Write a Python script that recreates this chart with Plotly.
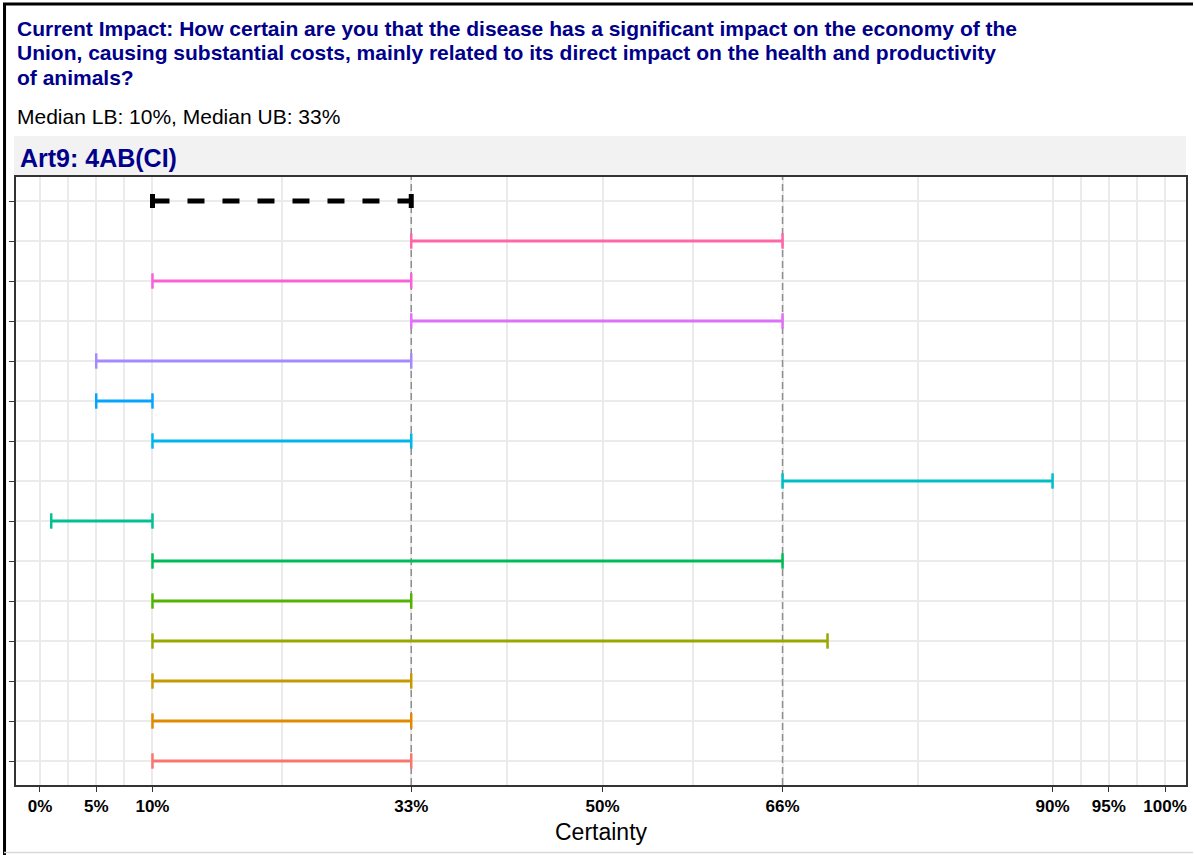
import plotly.graph_objects as go

# ---- data ----
rows = ["E1", "E2", "E3", "E4", "E5", "E6", "E7", "E8", "E9", "E10", "E11", "E12", "E13", "E14", "Median"]
lower = [10, 10, 10, 10, 10, 10, 1, 66, 10, 5, 5, 33, 10, 33, 10]
upper = [33, 33, 33, 70, 33, 66, 10, 90, 33, 10, 33, 66, 33, 66, 33]
colors = ["#F8766D", "#E38900", "#C49A00", "#99A800", "#53B400", "#00BC56", "#00C094",
          "#00BFC4", "#00B6EB", "#06A4FF", "#A58AFF", "#DF70F8", "#FB61D7", "#FF66A8", "#000000"]
major_ticks = [0, 5, 10, 33, 50, 66, 90, 95, 100]
tick_labels = ["0%", "5%", "10%", "33%", "50%", "66%", "90%", "95%", "100%"]
minor_ticks = [2.5, 7.5, 21.5, 41.5, 58, 78, 92.5, 97.5]
ref_lines = [33, 66]
title_lines = ["Current Impact: How certain are you that the disease has a significant impact on the economy of the",
               "Union, causing substantial costs, mainly related to its direct impact on the health and productivity",
               "of animals?"]
subtitle = "Median LB: 10%, Median UB: 33%"
strip_label = "Art9: 4AB(CI)"
x_title = "Certainty"

W, H = 1195, 855
L, R, T, B = 16, 7, 177, 70
PW, PH = W - L - R, H - T - B
FONT = "Liberation Sans, Arial"
Y_RANGE = [0.4, len(rows) + 0.6]


def px(xp):
    return (xp - L) / PW


def py(yp):
    return (H - B - yp) / PH


fig = go.Figure()
# reference lines drawn first (above grid, below intervals)
for v in ref_lines:
    fig.add_trace(go.Scatter(x=[v, v], y=Y_RANGE, mode="lines",
                             line=dict(color="#8F8F8F", width=1.5, dash="7px,4px"),
                             showlegend=False, hoverinfo="skip"))

for i, (lo, hi, c) in enumerate(zip(lower, upper, colors)):
    is_med = rows[i] == "Median"
    yv = i + 1
    fig.add_trace(go.Scatter(
        x=[lo, hi], y=[yv, yv], mode="lines+markers",
        line=dict(color=c, width=5 if is_med else 3, dash="17px,18px" if is_med else "solid"),
        marker=dict(symbol="line-ns", size=10 if is_med else 11,
                    line=dict(color=c, width=5 if is_med else 2.5)),
        showlegend=False, hoverinfo="skip", cliponaxis=False,
    ))

# strip
fig.add_shape(type="rect", xref="paper", yref="paper", x0=px(14), x1=1, y0=1, y1=py(136),
              fillcolor="#F2F2F2", line=dict(width=0), layer="below")
# outer frame
fig.add_shape(type="line", xref="paper", yref="paper", x0=px(3), x1=px(1195), y0=py(4), y1=py(4),
              line=dict(color="#000000", width=3))
fig.add_shape(type="line", xref="paper", yref="paper", x0=px(4.5), x1=px(4.5), y0=py(3), y1=py(855),
              line=dict(color="#000000", width=3))
fig.add_shape(type="line", xref="paper", yref="paper", x0=px(4), x1=px(1195), y0=py(852.5), y1=py(852.5),
              line=dict(color="#D9D9D9", width=1.5))

title_font = dict(family=FONT, size=21, color="#00008B")
for k, (t, yc) in enumerate(zip(title_lines, [28.5, 53, 77.5])):
    fig.add_annotation(text="<b>" + t + "</b>", x=px(16), y=py(yc), xref="paper", yref="paper",
                       xanchor="left", yanchor="middle", showarrow=False, font=title_font, borderpad=0)
fig.add_annotation(text=subtitle, x=px(16), y=py(116), xref="paper", yref="paper",
                   xanchor="left", yanchor="middle", showarrow=False, borderpad=0,
                   font=dict(family=FONT, size=21, color="#000000"))
fig.add_annotation(text="<b>" + strip_label + "</b>", x=px(19), y=py(158), xref="paper", yref="paper",
                   xanchor="left", yanchor="middle", showarrow=False, borderpad=0,
                   font=dict(family=FONT, size=25, color="#00008B"))
fig.add_annotation(text=x_title, x=px(603), y=py(832), xref="paper", yref="paper",
                   xanchor="center", yanchor="middle", showarrow=False, borderpad=0,
                   font=dict(family=FONT, size=23, color="#000000"))

fig.update_layout(
    width=W, height=H, margin=dict(l=L, r=R, t=T, b=B),
    paper_bgcolor="white", plot_bgcolor="white",
    xaxis=dict(range=[-2.13, 101.86], tickmode="array", tickvals=major_ticks, ticktext=tick_labels,
               showgrid=True, gridcolor="#EBEBEB", gridwidth=1.8, zeroline=False,
               minor=dict(tickmode="array", tickvals=minor_ticks, showgrid=True, gridcolor="#EBEBEB",
                          gridwidth=1.5, ticks=""),
               ticks="outside", ticklen=5, tickcolor="#333333", tickwidth=1.2,
               showline=True, linecolor="#333333", linewidth=1.5, mirror=True,
               tickfont=dict(family=FONT, size=17, color="#000000", weight="bold")),
    yaxis=dict(range=Y_RANGE, tickmode="array", tickvals=list(range(1, len(rows) + 1)),
               ticktext=[""] * len(rows), showgrid=True, gridcolor="#EBEBEB", gridwidth=1.8,
               zeroline=False, ticks="outside", ticklen=5, tickcolor="#333333", tickwidth=1.2,
               showline=True, linecolor="#333333", linewidth=1.5, mirror=True),
)

fig.write_html("out.html", config={"displayModeBar": False},
               post_script="document.body.style.margin='0';document.body.style.overflow='hidden';")
